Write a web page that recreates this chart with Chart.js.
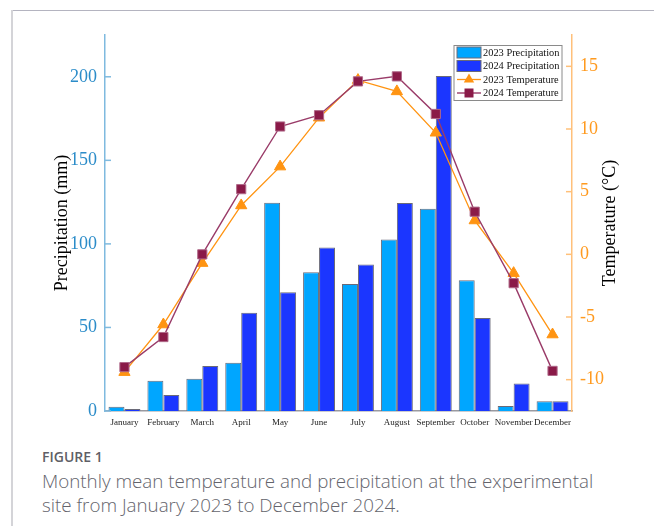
<!DOCTYPE html>
<html><head><meta charset="utf-8">
<script src="https://cdn.jsdelivr.net/npm/chart.js@4"></script>
<style>
html,body{margin:0;padding:0;background:#fff;}
body{width:654px;height:526px;position:relative;overflow:hidden;}
#frameTop{position:absolute;left:12px;top:10px;right:0;height:0;border-top:1.5px solid #b4b4c0;}
#frameLeft{position:absolute;left:11px;top:10px;bottom:0;width:0;border-left:2px solid #d4d4d8;}
#wrap{position:absolute;left:0;top:0;width:654px;height:440px;}
#fig{position:absolute;left:42px;top:447px;font-family:'Open Sans',sans-serif;font-weight:600;font-size:14px;line-height:19px;color:#5f5f66;}
#cap{position:absolute;left:42px;top:469px;font-family:'Open Sans',sans-serif;font-weight:300;font-size:18.8px;line-height:24px;color:#64646c;width:610px;white-space:nowrap;}
</style>
</head>
<body>
<div id="frameTop"></div>
<div id="frameLeft"></div>
<div id="wrap"><canvas id="c" width="654" height="440"></canvas></div>
<div id="fig">FIGURE 1</div>
<div id="cap">Monthly mean temperature and precipitation at the experimental<br>site from January 2023 to December 2024.</div>
<script>
const months = ['January','February','March','April','May','June','July','August','September','October','November','December'];
const precip2023 = [2.6, 18.1, 19.3, 28.9, 124.6, 83.0, 76.0, 102.6, 121.0, 78.3, 3.0, 5.8];
const precip2024 = [1.2, 9.6, 26.9, 58.8, 71.0, 97.8, 87.7, 124.5, 200.5, 55.6, 16.4, 5.8];
const temp2023 = [-9.4, -5.6, -0.7, 3.9, 7.0, 10.9, 13.9, 13.0, 9.7, 2.7, -1.5, -6.4];
const temp2024 = [-9.0, -6.6, 0.0, 5.2, 10.2, 11.1, 13.8, 14.2, 11.2, 3.4, -2.3, -9.3];
const precipTicks = [0, 50, 100, 150, 200];
const tempTicks = [-10, -5, 0, 5, 10, 15];
const precipTitle = 'Precipitation (mm)';
const tempTitle = 'Temperature (\u00B0C)';

const SERIF = "'Liberation Serif', 'Times New Roman', serif";
const C = {
  b23: '#00a6ff', b24: '#1b36ff', barEdge: '#6a6a78',
  o: '#ff9412', m: '#9a3c69', mFill: '#8a1a48',
  leftAxis: '#7fbadf', leftTick: '#2b8cc9',
  rightAxis: '#ffc07a', rightTick: '#ff9a1f', bottomAxis: '#9a9aa0'
};

const extras = {
  id: 'extras',
  afterDraw(chart) {
    const ctx = chart.ctx, ca = chart.chartArea;
    const y = chart.scales.y, y1 = chart.scales.y1;
    ctx.save();
    // inward tick marks
    ctx.lineWidth = 1.5;
    ctx.strokeStyle = C.leftAxis;
    y.ticks.forEach(t => { const p = y.getPixelForValue(t.value); ctx.beginPath(); ctx.moveTo(ca.left, p); ctx.lineTo(ca.left + 6, p); ctx.stroke(); });
    ctx.strokeStyle = C.rightAxis;
    y1.ticks.forEach(t => { const p = y1.getPixelForValue(t.value); ctx.beginPath(); ctx.moveTo(ca.right - 6, p); ctx.lineTo(ca.right, p); ctx.stroke(); });
    // axis titles (both read bottom-to-top)
    const cy = (ca.top + ca.bottom) / 2;
    ctx.fillStyle = '#000';
    ctx.font = '18px ' + SERIF;
    ctx.textAlign = 'center'; ctx.textBaseline = 'middle';
    [[62, precipTitle], [610, tempTitle]].forEach(([x, txt]) => {
      ctx.save(); ctx.translate(x, cy); ctx.rotate(-Math.PI / 2); ctx.fillText(txt, 0, 0); ctx.restore();
    });
    // legend box
    const L = { x: ca.right - 118, y: ca.top + 10.5, w: 108, h: 55 };
    ctx.fillStyle = '#fff'; ctx.fillRect(L.x, L.y, L.w, L.h);
    ctx.strokeStyle = '#8a8a8a'; ctx.lineWidth = 1; ctx.strokeRect(L.x, L.y, L.w, L.h);
    ctx.font = '10.4px ' + SERIF; ctx.textAlign = 'left'; ctx.textBaseline = 'middle';
    chart.data.datasets.forEach((ds, i) => {
      const ry = L.y + 7 + i * 13.5;
      const sx = L.x + 3, sw = 24;
      if (ds.type === 'bar') {
        ctx.fillStyle = ds.backgroundColor; ctx.fillRect(sx, ry - 5.5, sw, 11);
        ctx.strokeStyle = C.barEdge; ctx.lineWidth = 1; ctx.strokeRect(sx, ry - 5.5, sw, 11);
      } else {
        ctx.strokeStyle = ds.borderColor; ctx.lineWidth = ds.borderWidth;
        ctx.beginPath(); ctx.moveTo(sx, ry); ctx.lineTo(sx + sw, ry); ctx.stroke();
        const mx = sx + sw / 2;
        ctx.fillStyle = ds.pointBackgroundColor;
        ctx.beginPath();
        if (ds.pointStyle === 'triangle') {
          const r = 6;
          ctx.moveTo(mx, ry - r); ctx.lineTo(mx + r * 0.866, ry + r * 0.5); ctx.lineTo(mx - r * 0.866, ry + r * 0.5); ctx.closePath();
        } else {
          ctx.rect(mx - 4.5, ry - 4.5, 9, 9);
        }
        ctx.fill();
      }
      ctx.fillStyle = '#111';
      ctx.fillText(ds.label, L.x + 29, ry + 0.5);
    });
    ctx.restore();
  }
};

new Chart(document.getElementById('c'), {
  data: {
    labels: months,
    datasets: [
      { type: 'bar', label: '2023 Precipitation', data: precip2023, yAxisID: 'y', backgroundColor: C.b23, borderColor: C.barEdge, borderWidth: 1, categoryPercentage: 0.82, barPercentage: 1.0, order: 2 },
      { type: 'bar', label: '2024 Precipitation', data: precip2024, yAxisID: 'y', backgroundColor: C.b24, borderColor: C.barEdge, borderWidth: 1, categoryPercentage: 0.82, barPercentage: 1.0, order: 2 },
      { type: 'line', label: '2023 Temperature', data: temp2023, yAxisID: 'y1', borderColor: C.o, borderWidth: 1.3, pointStyle: 'triangle', pointRadius: 6.5, pointBackgroundColor: C.o, pointBorderColor: C.o, pointBorderWidth: 1, tension: 0, order: 1 },
      { type: 'line', label: '2024 Temperature', data: temp2024, yAxisID: 'y1', borderColor: C.m, borderWidth: 1.4, pointStyle: 'rect', pointRadius: 6.5, pointBackgroundColor: C.mFill, pointBorderColor: '#b06a8a', pointBorderWidth: 1, tension: 0, order: 0 }
    ]
  },
  options: {
    responsive: false,
    devicePixelRatio: 1,
    animation: false,
    layout: { padding: { left: 0, right: 0, top: 35, bottom: 7 } },
    plugins: { legend: { display: false }, tooltip: { enabled: false } },
    scales: {
      x: {
        type: 'category', offset: true,
        grid: { display: false, drawTicks: false },
        border: { display: true, color: C.bottomAxis, width: 1.5 },
        ticks: { font: { family: SERIF, size: 9 }, color: '#222', padding: 6, maxRotation: 0, autoSkip: false },
        afterFit(s) { s.height = 22; }
      },
      y: {
        type: 'linear', position: 'left', min: 0, max: 225,
        grid: { display: false, drawTicks: false },
        border: { display: true, color: C.leftAxis, width: 1.5 },
        ticks: { font: { family: SERIF, size: 18 }, color: C.leftTick, padding: 8 },
        afterBuildTicks(s) { s.ticks = precipTicks.map(v => ({ value: v })); },
        afterFit(s) { s.width = 105; }
      },
      y1: {
        type: 'linear', position: 'right', min: -12.5, max: 17.5,
        grid: { display: false, drawTicks: false },
        border: { display: true, color: C.rightAxis, width: 1.5 },
        ticks: { font: { family: SERIF, size: 18 }, color: C.rightTick, padding: 8 },
        afterBuildTicks(s) { s.ticks = tempTicks.map(v => ({ value: v })); },
        afterFit(s) { s.width = 82; }
      }
    }
  },
  plugins: [extras]
});
</script>
</body></html>
